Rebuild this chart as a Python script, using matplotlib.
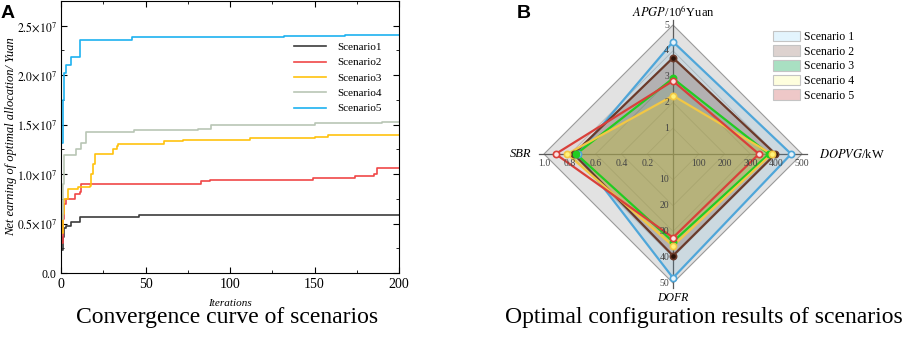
import matplotlib
matplotlib.use("Agg")
import matplotlib.pyplot as plt
from matplotlib.patches import Patch, Polygon
from matplotlib.ticker import FuncFormatter, MultipleLocator
import numpy as np

plt.rcParams['font.family'] = ['Liberation Serif', 'DejaVu Sans']
plt.rcParams['mathtext.fontset'] = 'stix'

# ---- panel A: convergence curves (iteration where value changes, value in 1e7 yuan)
s1_it = [0, 1, 2, 3, 6, 11, 46, 200]
s1_val = [0.23, 0.36, 0.45, 0.48, 0.52, 0.57, 0.59, 0.59]
s2_it = [0, 1, 2, 3, 8, 11, 12, 83, 88, 149, 174, 185, 187, 200]
s2_val = [0.30, 0.55, 0.70, 0.75, 0.80, 0.82, 0.90, 0.93, 0.945, 0.96, 0.98, 1.00, 1.06, 1.06]
s3_it = [0, 1, 2, 4, 10, 17, 18, 19, 20, 31, 33, 34, 61, 72, 112, 150, 158, 200]
s3_val = [0.40, 0.60, 0.75, 0.85, 0.87, 0.88, 1.00, 1.10, 1.20, 1.25, 1.28, 1.30, 1.33, 1.34, 1.36, 1.37, 1.40, 1.40]
s4_it = [0, 1, 2, 9, 12, 15, 43, 81, 89, 150, 190, 200]
s4_val = [0.55, 0.90, 1.19, 1.25, 1.31, 1.43, 1.45, 1.46, 1.50, 1.52, 1.53, 1.53]
s5_it = [0, 1, 2, 3, 6, 11, 42, 132, 168, 200]
s5_val = [1.31, 1.75, 2.02, 2.10, 2.18, 2.355, 2.39, 2.40, 2.41, 2.41]

conv_names = ['Scenario1', 'Scenario2', 'Scenario3', 'Scenario4', 'Scenario5']
conv_colors = ['#3c3c3c', '#f04848', '#ffc20e', '#b9c6b5', '#1eb2f0']

# ---- panel B: radar values
radar_axes = ['APGP', 'DOPVG', 'DOFR', 'SBR']
radar_max = [5, 500, 50, 1.0]
sc1 = [4.35, 458, 48.0, 0.74]
sc2 = [3.73, 397, 39.4, 0.77]
sc3 = [2.93, 372, 34.0, 0.75]
sc4 = [2.26, 382, 35.6, 0.82]
sc5 = [2.83, 333, 32.4, 0.91]
radar_names = ['Scenario 1', 'Scenario 2', 'Scenario 3', 'Scenario 4', 'Scenario 5']
radar_lines = ['#4fa6d9', '#6b3a2a', '#22cc22', '#f2c744', '#d9403a']
radar_fills = ['#4fa6d9', '#6b3a2a', '#3cb371', '#d8c848', '#d9403a']
fill_alpha = [0.15, 0.25, 0.18, 0.4, 0.06]
legend_cols = ['#e3f4fd', '#ddd2cf', '#a9e0c2', '#fefedd', '#eec8c8']

fig = plt.figure(figsize=(9.13, 3.38), dpi=100)

# ================= A =================
ax = fig.add_axes([61 / 913, 1 - 273 / 338, 338 / 913, 272 / 338])
series = [(s1_it, s1_val), (s2_it, s2_val), (s3_it, s3_val), (s4_it, s4_val), (s5_it, s5_val)]
for (it, v), name, c in zip(series, conv_names, conv_colors):
    ax.step(it, np.array(v) * 1e7, where='post', color=c, lw=1.2, label=name)

ax.set_xlim(0, 200)
ax.set_ylim(0, 2.75e7)
ax.xaxis.set_major_locator(MultipleLocator(50))
ax.xaxis.set_minor_locator(MultipleLocator(25))
ax.yaxis.set_major_locator(MultipleLocator(0.5e7))
ax.yaxis.set_minor_locator(MultipleLocator(0.25e7))


def yfmt(v, pos):
    if v == 0:
        return '0.0'
    return r'$%.1f{\times}10^{7}$' % (v / 1e7)


ax.yaxis.set_major_formatter(FuncFormatter(yfmt))
ax.tick_params(which='both', direction='in', top=True, right=True)
ax.tick_params(which='major', length=4)
ax.tick_params(which='minor', length=2)
ax.tick_params(axis='y', labelsize=8.5, pad=3)
ax.tick_params(axis='x', labelsize=10)
ax.set_xlabel('Iterations', fontsize=8, style='italic', labelpad=6)
ax.set_ylabel('Net earning of optimal allocation/ Yuan', fontsize=9, style='italic', labelpad=0)
ax.legend(loc='upper left', bbox_to_anchor=(0.66, 0.885), frameon=False, fontsize=8,
          handlelength=2.9, handletextpad=1.0, labelspacing=0.5)

fig.text(1 / 913, 1 - 13 / 338, 'A', fontsize=14, fontweight='bold', family='Liberation Sans', va='center')
fig.text(227 / 913, 1 - 318 / 338, 'Convergence curve of scenarios', fontsize=17, ha='center', va='center')

# ================= B =================
R = 1.25
size = 129 * 2 * R
rx = fig.add_axes([(673 - size / 2) / 913, (184 - size / 2) / 338, size / 913, size / 338])
rx.set_xlim(-R, R)
rx.set_ylim(-R, R)
rx.set_aspect('equal')
rx.axis('off')

ang = np.deg2rad([90, 0, 270, 180])
dx, dy = np.cos(ang), np.sin(ang)

# background and grid
rx.add_patch(Polygon(np.c_[dx, dy], closed=True, fc='#e2e2e2', ec='#9a9a9a', lw=0.8, zorder=0))
for f in [0.2, 0.4, 0.6, 0.8]:
    rx.add_patch(Polygon(np.c_[dx * f, dy * f], closed=True, fill=False, ec='#b8b8b8', lw=0.6, zorder=1))
for i in range(4):
    rx.plot([0, dx[i] * 1.04], [0, dy[i] * 1.04], color='#5a5a5a', lw=0.9, zorder=1)

marker_face = ['#e8f4fb', '#2a1208', '#22cc22', '#fff27a', '#fbe3e3']
for vals, lc, fc, fa, mf in zip([sc1, sc2, sc3, sc4, sc5], radar_lines, radar_fills, fill_alpha, marker_face):
    r = np.array(vals) / np.array(radar_max)
    px, py = dx * r, dy * r
    rx.add_patch(Polygon(np.c_[px, py], closed=True, fc=fc, alpha=fa, ec='none', zorder=2))
    rx.plot(np.r_[px, px[0]], np.r_[py, py[0]], color=lc, lw=1.6, zorder=3)
    rx.plot(px, py, 'o', ms=4.5, mfc=mf, mec=lc, mew=1.2, zorder=4)

# tick labels on each spoke
tk = dict(fontsize=7, color='#444444')
for k in range(1, 6):
    f = k / 5
    rx.text(-0.03, f, str(k), ha='right', va='center', **tk)
    rx.text(f, -0.04, str(k * 100), ha='center', va='top', **tk)
    rx.text(-0.03, -f, str(k * 10), ha='right', va='center', **tk)
    rx.text(-f, -0.04, '%.1f' % f, ha='center', va='top', **tk)

rx.text(0, 1.1, r'$\it{APGP}$/10$^{6}$Yuan', ha='center', va='center', fontsize=9)
rx.text(1.13, 0, r'$\it{DOPVG}$/kW', ha='left', va='center', fontsize=9)
rx.text(0, -1.115, 'DOFR', ha='center', va='center', fontsize=8.5, style='italic')
rx.text(-1.1, 0, 'SBR', ha='right', va='center', fontsize=9, style='italic')

handles = [Patch(fc=c, ec='#c4c4c4', lw=0.8) for c in legend_cols]
fig.legend(handles, radar_names, loc='upper left', bbox_to_anchor=(762 / 913, 1 - 20 / 338),
           frameon=False, fontsize=8.5, handlelength=2.3, handleheight=1.0,
           handletextpad=0.35, labelspacing=0.2)

fig.text(517 / 913, 1 - 14 / 338, 'B', fontsize=14, fontweight='bold', family='Liberation Sans', va='center')
fig.text(704 / 913, 1 - 318 / 338, 'Optimal configuration results of scenarios', fontsize=17,
         ha='center', va='center')

fig.savefig('out.png', dpi=100)
